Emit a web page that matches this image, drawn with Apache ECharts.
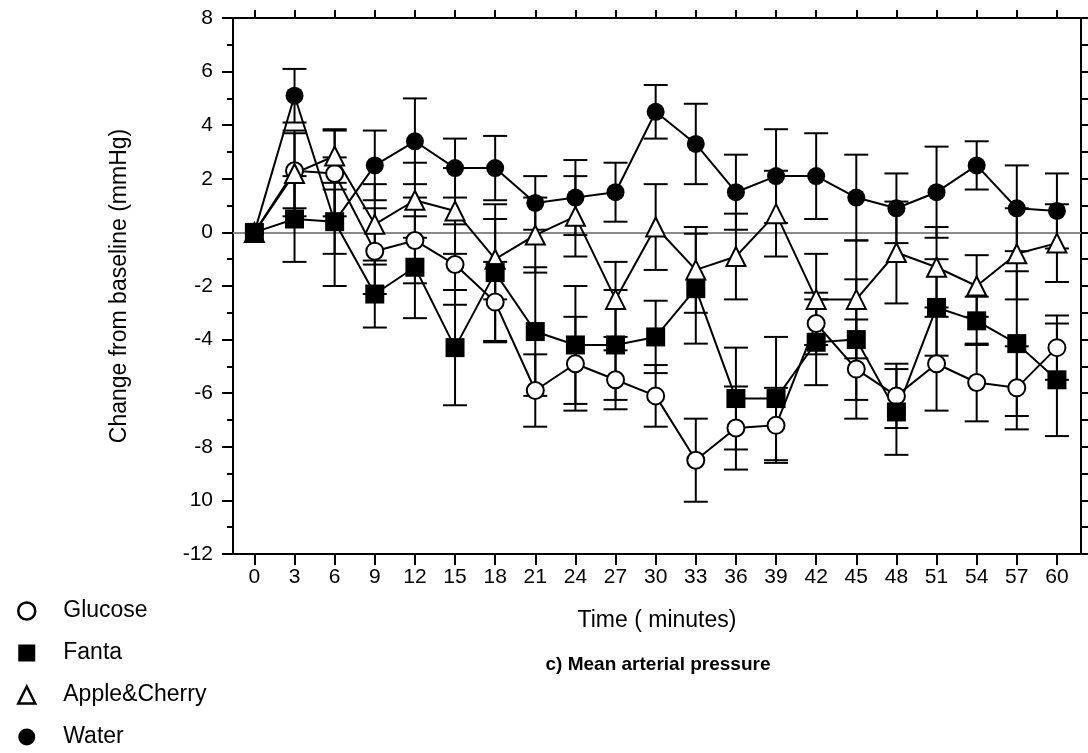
<!DOCTYPE html>
<html>
<head>
<meta charset="utf-8">
<script src="https://cdn.jsdelivr.net/npm/echarts@6/dist/echarts.min.js"></script>
<style>
html,body{margin:0;padding:0;background:#fff;}
#chart{width:1088px;height:753px;}
</style>
</head>
<body>
<div id="chart"></div>
<script>
// ---- data ----
const times = [0,3,6,9,12,15,18,21,24,27,30,33,36,39,42,45,48,51,54,57,60];
const timeTickLabels = ['0','3','6','9','12','15','18','21','24','27','30','33','36','39','42','45','48','51','54','57','60'];
const yTickValues = [-12,-10,-8,-6,-4,-2,0,2,4,6,8];
const yTickLabels = ['-12','10','-8','-6','-4','-2','0','2','4','6','8'];

const glucose   = [0, 2.3, 2.2, -0.7, -0.3, -1.2, -2.6, -5.9, -4.9, -5.5, -6.1, -8.5, -7.3, -7.2, -3.4, -5.1, -6.1, -4.9, -5.6, -5.8, -4.3];
const glucoseSE = [0, 1.4, 1.6, 1.6, 1.6, 1.5, 1.5, 1.35, 1.75, 1.1, 1.15, 1.55, 1.55, 1.4, 1.15, 1.85, 1.2, 1.75, 1.45, 1.55, 1.2];

const fanta     = [0, 0.5, 0.4, -2.3, -1.3, -4.3, -1.5, -3.7, -4.2, -4.2, -3.9, -2.1, -6.2, -6.2, -4.1, -4.0, -6.7, -2.8, -3.3, -4.15, -5.5];
const fantaSE   = [0, 1.6, 2.4, 1.25, 1.9, 2.15, 2.55, 2.4, 2.2, 2.05, 1.35, 2.05, 1.9, 2.3, 1.6, 2.25, 1.6, 1.8, 0.9, 2.7, 2.1];

const apple     = [0, 2.2, 2.85, 0.3, 1.2, 0.8, -1.0, -0.1, 0.6, -2.5, 0.2, -1.4, -0.9, 0.7, -2.5, -2.5, -0.75, -1.3, -2.0, -0.8, -0.4];
const appleSE   = [0, 1.6, 1.0, 1.5, 1.4, 1.6, 1.5, 1.4, 1.5, 1.4, 1.6, 1.6, 1.6, 1.6, 1.7, 2.2, 1.9, 1.5, 1.15, 1.7, 1.45];

const water     = [0, 5.1, 0.4, 2.5, 3.4, 2.4, 2.4, 1.1, 1.3, 1.5, 4.5, 3.3, 1.5, 2.1, 2.1, 1.3, 0.9, 1.5, 2.5, 0.9, 0.8];
const waterSE   = [0, 1.0, 1.2, 1.3, 1.6, 1.1, 1.2, 1.0, 1.4, 1.1, 1.0, 1.5, 1.4, 1.75, 1.6, 1.6, 1.3, 1.7, 0.9, 1.6, 1.4];

// ---- build ----
function pts(vals){ return times.map((t,i)=>[t, vals[i]]); }
function errs(vals, se){ return times.map((t,i)=>[t, vals[i]-se[i], vals[i]+se[i]]); }

function renderErr(params, api){
  const x = api.value(0), lo = api.value(1), hi = api.value(2);
  if (hi === lo) return null;
  const a = api.coord([x, lo]), b = api.coord([x, hi]);
  const hw = 12;
  const st = {stroke:'#000', lineWidth:2};
  return {type:'group', children:[
    {type:'line', shape:{x1:a[0], y1:a[1], x2:b[0], y2:b[1]}, style:st},
    {type:'line', shape:{x1:a[0]-hw, y1:a[1], x2:a[0]+hw, y2:a[1]}, style:st},
    {type:'line', shape:{x1:b[0]-hw, y1:b[1], x2:b[0]+hw, y2:b[1]}, style:st}
  ]};
}
function errSeries(name, vals, se){
  return {type:'custom', name: name + ' err', renderItem: renderErr, data: errs(vals, se),
    encode:{x:0, y:[1,2]}, z:2, silent:true};
}
const lineBase = {type:'line', lineStyle:{color:'#000', width:2}, z:3, silent:true, animation:false};

const chart = echarts.init(document.getElementById('chart'), null, {renderer:'canvas'});
const FONT = 'Liberation Sans, Arial, sans-serif';
const xMin = -1.6, xMax = 61.8;

chart.setOption({
  animation:false,
  backgroundColor:'#fff',
  textStyle:{fontFamily:FONT, color:'#000'},
  grid:{left:233, right:7, top:18, bottom:199},
  title:{
    text:'c) Mean arterial pressure', left:658, top:655, textAlign:'center', padding:0,
    textStyle:{fontFamily:FONT, fontSize:19, fontWeight:'bold', color:'#000'}
  },
  legend:{
    orient:'vertical', left:12, top:594, height:200, itemWidth:17, itemHeight:17, itemGap:18,
    textStyle:{fontFamily:FONT, fontSize:23, color:'#000', lineHeight:24, padding:[0,0,0,23]},
    selectedMode:false,
    data:[
      {name:'Glucose', icon:'circle', itemStyle:{color:'#fff', borderColor:'#000', borderWidth:2.5}},
      {name:'Fanta', icon:'rect', itemStyle:{color:'#000', borderColor:'#000', borderWidth:0}},
      {name:'Apple&Cherry', icon:'triangle', itemStyle:{color:'#fff', borderColor:'#000', borderWidth:2.5}},
      {name:'Water', icon:'circle', itemStyle:{color:'#000', borderColor:'#000', borderWidth:0}}
    ]
  },
  xAxis:[
    {
      type:'value', position:'bottom', min:xMin, max:xMax,
      axisLine:{show:true, onZero:false, lineStyle:{color:'#000', width:2}},
      axisTick:{show:true, customValues:times, length:11, inside:false, lineStyle:{color:'#000', width:2}},
      axisLabel:{show:true, customValues:times, margin:13, fontSize:21, color:'#000', fontFamily:FONT,
        formatter:(v)=>timeTickLabels[times.indexOf(v)]},
      splitLine:{show:false},
      name:'Time ( minutes)', nameLocation:'middle', nameGap:55,
      nameTextStyle:{fontSize:23, color:'#000', fontFamily:FONT}
    },
    {
      type:'value', position:'top', min:xMin, max:xMax,
      axisLine:{show:true, onZero:false, lineStyle:{color:'#000', width:2}},
      axisTick:{show:true, customValues:times, length:8, inside:false, lineStyle:{color:'#000', width:2}},
      axisLabel:{show:false}, splitLine:{show:false}
    }
  ],
  yAxis:[
    {
      type:'value', position:'left', min:-12, max:8, interval:2,
      axisLine:{show:true, onZero:false, lineStyle:{color:'#000', width:2}},
      axisTick:{show:true, length:11, inside:false, lineStyle:{color:'#000', width:2}},
      minorTick:{show:true, splitNumber:2, length:6, lineStyle:{color:'#000', width:2}},
      axisLabel:{show:true, margin:20, fontSize:21, color:'#000', fontFamily:FONT,
        formatter:(v)=>{ const i = yTickValues.indexOf(v); return i>=0 ? yTickLabels[i] : ''; }},
      splitLine:{show:false},
      name:'Change from baseline (mmHg)', nameLocation:'middle', nameGap:102, nameRotate:90,
      nameTextStyle:{fontSize:23, color:'#000', fontFamily:FONT}
    },
    {
      type:'value', position:'right', min:-12, max:8, interval:1,
      axisLine:{show:true, onZero:false, lineStyle:{color:'#000', width:2}},
      axisTick:{show:true, length:8, inside:false, lineStyle:{color:'#000', width:2}},
      axisLabel:{show:false}, splitLine:{show:false}
    }
  ],
  series:[
    errSeries('Glucose', glucose, glucoseSE),
    errSeries('Water', water, waterSE),
    errSeries('Apple&Cherry', apple, appleSE),
    errSeries('Fanta', fanta, fantaSE),
    Object.assign({}, lineBase, {
      name:'Glucose', data:pts(glucose), symbol:'circle', symbolSize:17,
      itemStyle:{color:'#fff', borderColor:'#000', borderWidth:2},
      markLine:{silent:true, symbol:'none', label:{show:false},
        lineStyle:{color:'#8a8a8a', width:2, type:'solid'}, data:[{yAxis:0}], z:1}
    }),
    Object.assign({}, lineBase, {
      name:'Water', data:pts(water), symbol:'circle', symbolSize:18,
      itemStyle:{color:'#000', borderColor:'#000', borderWidth:0}
    }),
    Object.assign({}, lineBase, {
      name:'Apple&Cherry', data:pts(apple), symbol:'triangle', symbolSize:19,
      itemStyle:{color:'#fff', borderColor:'#000', borderWidth:2}
    }),
    Object.assign({}, lineBase, {
      name:'Fanta', data:pts(fanta), symbol:'rect', symbolSize:19,
      itemStyle:{color:'#000', borderColor:'#000', borderWidth:0}
    })
  ]
});
</script>
</body>
</html>
